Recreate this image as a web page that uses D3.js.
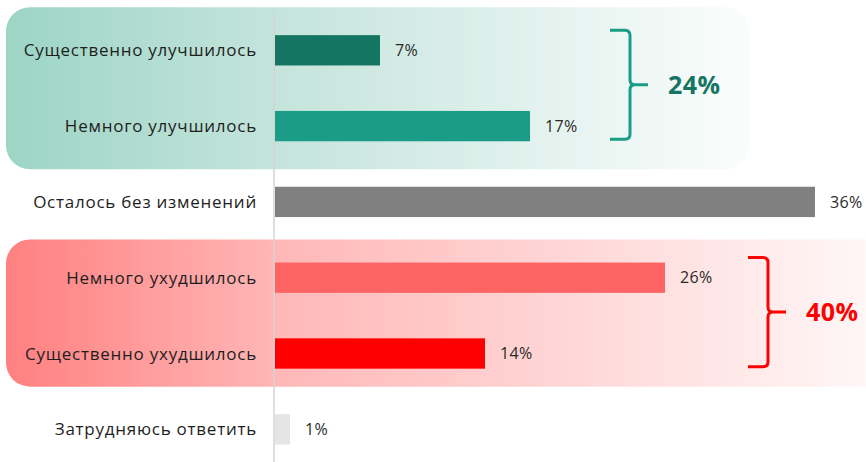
<!DOCTYPE html>
<html>
<head>
<meta charset="utf-8">
<script src="https://cdn.jsdelivr.net/npm/d3@7"></script>
<style>
  html, body { margin: 0; padding: 0; background: #fff; }
  svg { display: block; font-family: "Open Sans", "Noto Sans", sans-serif; }
</style>
</head>
<body>
<svg id="chart" width="866" height="462"></svg>
<script>
// Survey answers and their shares, in percent
const categories = [
  "Существенно улучшилось",
  "Немного улучшилось",
  "Осталось без изменений",
  "Немного ухудшилось",
  "Существенно ухудшилось",
  "Затрудняюсь ответить"
];
const values = [7, 17, 36, 26, 14, 1];
const barColors = ["#147562", "#1a9c87", "#808080", "#ff6464", "#ff0000", "#e5e5e5"];

// Grouped totals shown next to the braces
const groupNames = ["improved", "worsened"];
const groupMembers = [[0, 1], [3, 4]];
const groupTotals = [24, 40];

const svg = d3.select("#chart");
const width = 866, height = 462;

const x0 = 275;
const x = d3.scaleLinear().domain([0, 36]).range([x0, 815]);
const y = d3.scaleBand()
  .domain(categories)
  .range([12.4, 467.2])
  .paddingInner(0.6)
  .paddingOuter(0.3);

const defs = svg.append("defs");
const gradGreen = defs.append("linearGradient").attr("id", "g-improved");
gradGreen.append("stop").attr("offset", "0").attr("stop-color", "#9dd5c5");
gradGreen.append("stop").attr("offset", "0.36").attr("stop-color", "#c4e4db");
gradGreen.append("stop").attr("offset", "1").attr("stop-color", "#fbfdfd");
const gradRed = defs.append("linearGradient").attr("id", "g-worsened");
gradRed.append("stop").attr("offset", "0").attr("stop-color", "#ff8080");
gradRed.append("stop").attr("offset", "0.31").attr("stop-color", "#ffb8b8");
gradRed.append("stop").attr("offset", "1").attr("stop-color", "#fffafa");

// Background panels behind each group
const panelFill = ["url(#g-improved)", "url(#g-worsened)"];
const panelPadTop = [28, 23];
const panelPadBottom = [28, 18];
const panelRight = [749, 900];
groupMembers.forEach((m, i) => {
  const top = y(categories[m[0]]) - panelPadTop[i];
  const bottom = y(categories[m[m.length - 1]]) + y.bandwidth() + panelPadBottom[i];
  svg.append("rect")
    .attr("x", 6).attr("y", top)
    .attr("width", panelRight[i] - 6).attr("height", bottom - top)
    .attr("rx", 24).attr("ry", 24)
    .attr("fill", panelFill[i]);
});

// Baseline
svg.append("line")
  .attr("x1", x0 - 1).attr("x2", x0 - 1)
  .attr("y1", 13).attr("y2", height)
  .attr("stroke", "#d4d4d4").attr("stroke-width", 1.5);

// Bars
svg.selectAll("rect.bar")
  .data(values)
  .join("rect")
  .attr("class", "bar")
  .attr("x", x(0))
  .attr("y", (d, i) => y(categories[i]))
  .attr("width", d => x(d) - x(0))
  .attr("height", y.bandwidth())
  .attr("fill", (d, i) => barColors[i]);

// Category labels
svg.selectAll("text.cat")
  .data(categories)
  .join("text")
  .attr("class", "cat")
  .attr("x", 257)
  .attr("y", d => y(d) + y.bandwidth() / 2)
  .attr("dy", "0.36em")
  .attr("text-anchor", "end")
  .attr("font-size", 17)
  .attr("letter-spacing", 0.75)
  .attr("fill", "#1e1e1e")
  .text(d => d);

// Value labels
svg.selectAll("text.val")
  .data(values)
  .join("text")
  .attr("class", "val")
  .attr("x", d => x(d) + 15)
  .attr("y", (d, i) => y(categories[i]) + y.bandwidth() / 2)
  .attr("dy", "0.36em")
  .attr("font-size", 16)
  .attr("letter-spacing", 0.3)
  .attr("fill", "#2a2a2a")
  .text(d => d + "%");

// Braces with group totals
const braceColor = ["#1a9c87", "#ff0000"];
const totalColor = ["#147562", "#ff0000"];
const braceX = [630, 768];
groupMembers.forEach((m, i) => {
  const top = y(categories[m[0]]) - 5;
  const bottom = y(categories[m[m.length - 1]]) + y.bandwidth() - 2;
  const mid = (top + bottom) / 2;
  const bx = braceX[i];
  const r = 5;
  const path = d3.path();
  path.moveTo(bx - 20, top);
  path.lineTo(bx - r, top);
  path.quadraticCurveTo(bx, top, bx, top + r);
  path.lineTo(bx, mid - r);
  path.quadraticCurveTo(bx, mid, bx + r, mid);
  path.lineTo(bx + 18, mid);
  path.moveTo(bx + r, mid);
  path.quadraticCurveTo(bx, mid, bx, mid + r);
  path.lineTo(bx, bottom - r);
  path.quadraticCurveTo(bx, bottom, bx - r, bottom);
  path.lineTo(bx - 20, bottom);
  svg.append("path")
    .attr("d", path.toString())
    .attr("fill", "none")
    .attr("stroke", braceColor[i])
    .attr("stroke-width", 3);
  svg.append("text")
    .attr("x", bx + 38)
    .attr("y", mid)
    .attr("dy", "0.36em")
    .attr("font-size", 25)
    .attr("font-weight", 700)
    .attr("letter-spacing", 0.5)
    .attr("fill", totalColor[i])
    .text(groupTotals[i] + "%");
});
</script>
</body>
</html>
